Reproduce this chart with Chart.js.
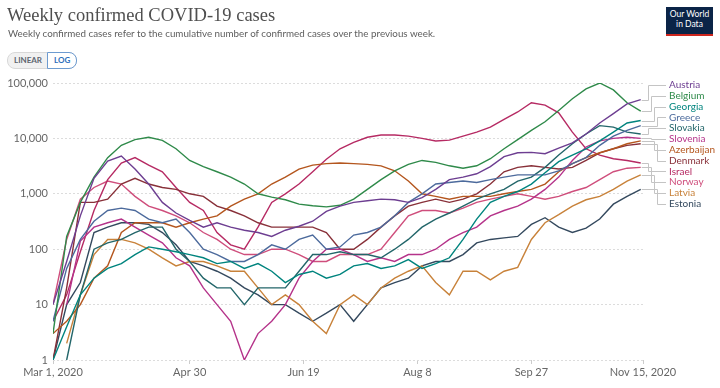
<!DOCTYPE html>
<html><head><meta charset="utf-8">
<script src="https://cdn.jsdelivr.net/npm/chart.js@4"></script>
<style>
html,body{margin:0;padding:0;background:#fff;}
#wrap{position:relative;width:720px;height:388px;overflow:hidden;font-family:Lato,sans-serif;}
canvas{position:absolute;left:0;top:0;}
#title{position:absolute;left:7px;top:5px;font-family:"Liberation Serif",serif;font-size:18.5px;color:#4f4f4f;white-space:nowrap;}
#sub{position:absolute;left:8px;top:27px;font-size:9.8px;color:#5e5e5e;white-space:nowrap;}
#tog{position:absolute;left:7px;top:52px;height:15px;border:1px solid #d8d8d8;border-radius:8px;background:#f1f1f1;font-size:8px;font-weight:bold;line-height:15px;white-space:nowrap;}
#tog .lin{display:inline-block;padding:0 5px 0 6px;color:#5d6670;}
#tog .log{display:inline-block;padding:0 6px;color:#2a6ebb;background:#fff;border:1px solid #6d9bd0;border-radius:0 8px 8px 0;margin:-1px -1px -1px 0;height:15px;}
#logo{position:absolute;left:666px;top:7px;width:47px;height:25px;background:#0b2447;border-bottom:2px solid #ce261e;color:#fff;font-size:8.5px;line-height:10px;text-align:center;padding-top:2px;box-sizing:content-box;}
</style></head>
<body><div id="wrap">
<canvas id="c" width="720" height="388"></canvas>
<div id="title">Weekly confirmed COVID-19 cases</div>
<div id="sub">Weekly confirmed cases refer to the cumulative number of confirmed cases over the previous week.</div>
<div id="tog"><span class="lin">LINEAR</span><span class="log">LOG</span></div>
<div id="logo">Our World<br>in Data</div>
</div>
<script>
// days since Mar 1, 2020
const days = [0,6,12,18,24,30,36,42,48,54,60,66,72,78,84,90,96,102,108,114,120,126,132,138,144,150,156,162,168,174,180,186,192,198,204,210,216,222,228,234,240,246,252,258];
const tickDays = [0,60,110,160,210,259];
const tickLabels = ["Mar 1, 2020","Apr 30","Jun 19","Aug 8","Sep 27","Nov 15, 2020"];
const yTicks = [1,10,100,1000,10000,100000];

const countries = ["Austria","Belgium","Georgia","Greece","Slovakia","Slovenia","Azerbaijan","Denmark","Israel","Norway","Latvia","Estonia"];
const colors = ["#6D3E91","#2F8A4A","#00847E","#4C6A9C","#23666A","#B5338A","#B4561E","#883039","#B62A63","#CF4E7C","#C8823A","#34495E"];

const austria = [10,60,400,1900,3900,4800,2800,1500,700,450,330,250,300,250,220,200,170,220,260,320,480,600,700,750,800,780,700,850,1200,1800,2000,2300,3100,4700,5500,5600,5300,6700,8300,12000,19000,28000,42000,50000];
const belgium = [3,170,700,2000,4500,7500,9500,10500,9200,6500,4000,3100,2500,2000,1500,1000,870,780,650,610,580,620,800,1200,1800,2600,3400,4000,3700,3200,2900,3200,4300,6500,9500,14000,20000,32000,52000,78000,100000,75000,44000,31000];
const georgia = [1,4,15,30,45,55,80,110,100,90,80,70,55,60,45,55,40,25,35,40,30,35,50,55,45,50,65,45,55,70,150,350,700,900,1100,1500,2400,3800,5000,6500,9000,13000,19000,21000];
const greece = [5,45,150,320,500,550,500,350,300,350,200,100,80,60,60,80,120,100,150,180,100,110,180,200,250,400,700,1000,1500,1600,1700,1600,1800,2000,2200,2200,2200,2600,3500,4500,7500,11000,14000,17000];
const slovakia = [null,1,15,100,130,150,200,250,250,100,60,30,20,20,10,20,20,20,40,80,80,90,80,80,70,100,150,250,350,450,600,800,1000,1200,1700,2000,3000,5000,8000,12000,17000,16000,13000,12000];
const slovenia = [null,10,140,250,300,350,250,180,130,70,50,20,10,5,1,3,5,10,30,60,100,100,80,60,70,60,80,80,100,150,200,250,400,500,600,800,1200,2000,4000,7000,9000,10000,10500,10000];
const azerbaijan = [3,5,10,30,50,200,300,300,300,250,300,350,400,600,800,1000,1500,2000,2800,3300,3500,3600,3500,3400,3200,2600,1700,1000,900,800,900,900,900,1000,1100,1200,1500,2500,3500,4500,5500,6500,8000,9000];
const denmark = [1,20,700,700,800,1500,1900,1500,1300,1200,1000,900,600,500,400,300,250,250,250,250,200,100,100,150,250,400,600,700,800,700,800,1000,1500,2500,3000,3200,3000,2800,3000,4000,5500,6500,7500,8000];
const israel = [5,15,90,500,1800,3600,4500,3300,2500,1300,700,500,200,120,100,250,700,1000,1500,2500,4200,6500,8500,10500,11500,11500,11000,10000,9000,9300,11000,13000,16000,22000,30000,44000,40000,29000,13000,6500,5000,4300,4000,3600];
const norway = [10,150,800,1300,1700,1500,900,600,500,400,300,200,150,100,80,80,100,100,80,60,60,80,80,80,100,200,400,500,500,450,550,700,800,900,1000,900,800,900,1100,1300,1800,2500,2900,3000];
const latvia = [null,2,15,80,150,150,130,100,70,50,60,60,50,40,40,20,10,15,10,5,3,10,15,10,20,30,40,50,25,15,40,40,28,40,47,150,300,420,600,780,900,1200,1700,2200];
const estonia = [1,10,25,200,250,300,300,280,200,120,60,50,40,30,20,15,10,10,7,5,7,10,5,10,20,25,30,50,60,60,80,130,150,160,170,280,370,250,200,240,350,650,900,1200];

const series = [austria,belgium,georgia,greece,slovakia,slovenia,azerbaijan,denmark,israel,norway,latvia,estonia];

const datasets = series.map((vals,k)=>({
  label: countries[k],
  data: days.map((d,i)=>({x:d, y:vals[i]})),
  borderColor: colors[k],
  backgroundColor: colors[k],
  borderWidth: 1.4,
  pointRadius: 0,
  tension: 0,
  spanGaps: false
}));

const labelPlugin = {
  id:'endLabels',
  afterDatasetsDraw(chart){
    const ctx = chart.ctx, area = chart.chartArea;
    const ends = chart.data.datasets.map((ds,k)=>{
      const meta = chart.getDatasetMeta(k);
      let p = null;
      for (let i=meta.data.length-1;i>=0;i--){ if (ds.data[i].y!=null){ p = meta.data[i]; break; } }
      return {k, y:p.y, x:p.x};
    });
    const order = ends.slice().sort((a,b)=>a.y-b.y);
    const gap = 10.8;
    const mean = order.reduce((s,e)=>s+e.y,0)/order.length + 2;
    const n = order.length;
    ctx.save();
    ctx.font = '10px Lato, sans-serif';
    ctx.textBaseline = 'middle';
    const labelX = area.right + 26;
    order.forEach((e,j)=>{
      const ly = mean + (j-(n-1)/2)*gap;
      const ex = area.right + 5 + (j%4)*3;
      ctx.strokeStyle = '#c4c4c4';
      ctx.lineWidth = 1;
      ctx.beginPath();
      ctx.moveTo(e.x+1, Math.round(e.y)+0.5);
      ctx.lineTo(ex+0.5, Math.round(e.y)+0.5);
      ctx.lineTo(ex+0.5, Math.round(ly)+0.5);
      ctx.lineTo(labelX-3, Math.round(ly)+0.5);
      ctx.stroke();
      ctx.fillStyle = colors[e.k];
      ctx.fillText(countries[e.k], labelX, ly);
    });
    ctx.restore();
  }
};

new Chart(document.getElementById('c'), {
  type:'line',
  data:{datasets},
  plugins:[labelPlugin],
  options:{
    responsive:false, animation:false, devicePixelRatio:1,
    layout:{padding:{top:83,right:77,left:0,bottom:0}},
    plugins:{legend:{display:false}, tooltip:{enabled:false}},
    scales:{
      x:{type:'linear', min:0, max:259,
        afterBuildTicks:s=>{ s.ticks = tickDays.map(v=>({value:v})); },
        afterFit:s=>{ s.height = 28; },
        ticks:{callback:(v,i)=>tickLabels[i], font:{family:'Lato',size:11}, color:'#666', maxRotation:0, autoSkip:false, padding:2},
        grid:{drawOnChartArea:false, tickLength:4, color:'#ccc'},
        border:{display:false}
      },
      y:{type:'logarithmic', min:1, max:100000,
        afterBuildTicks:s=>{ s.ticks = yTicks.map(v=>({value:v})); },
        afterFit:s=>{ s.width = 53; },
        ticks:{callback:v=>Number(v).toLocaleString('en-US'), font:{family:'Lato',size:11}, color:'#666', padding:5},
        grid:{color:'#dcdcdc', drawTicks:false, lineWidth:1},
        border:{display:false, dash:[2,2]}
      }
    }
  }
});
</script>
</body></html>
